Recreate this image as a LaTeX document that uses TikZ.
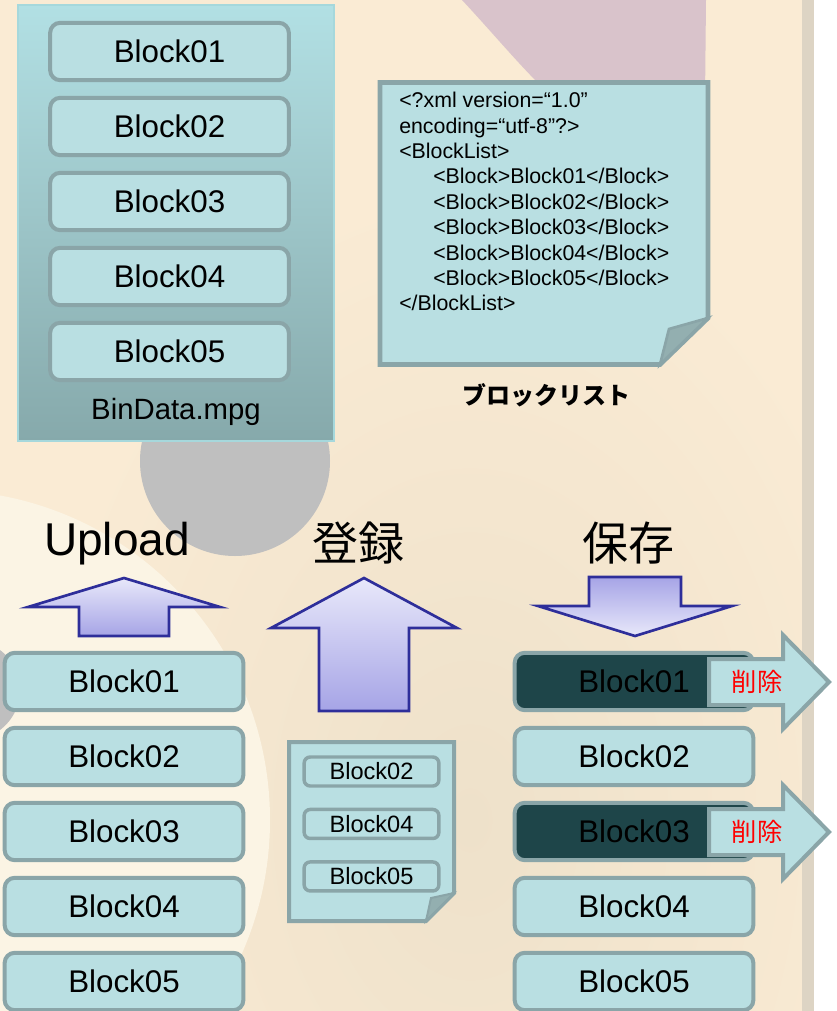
\documentclass[tikz,border=0pt]{standalone}
\usepackage{fontspec}
\setmainfont{Liberation Sans}
\newfontfamily\jpfont{Noto Sans CJK JP}
\usepackage{tikz}
\usetikzlibrary{positioning}
\definecolor{bgcream}{RGB}{250,235,212}
\definecolor{bgdark}{RGB}{238,225,202}
\definecolor{bglight}{RGB}{251,244,228}
\definecolor{bggray}{RGB}{191,191,191}
\definecolor{bgmauve}{RGB}{217,195,203}
\definecolor{stripe}{RGB}{221,212,196}
\definecolor{blockfill}{RGB}{185,223,226}
\definecolor{blockline}{RGB}{138,165,168}
\definecolor{darkblock}{RGB}{30,69,73}
\definecolor{arrowline}{RGB}{46,46,154}
\definecolor{arrowlight}{RGB}{232,232,250}
\definecolor{arrowdark}{RGB}{166,164,230}
\definecolor{bintop}{RGB}{178,224,228}
\definecolor{binbottom}{RGB}{134,169,171}
\definecolor{binedge}{RGB}{166,216,220}
\definecolor{foldfill}{RGB}{147,175,176}
\definecolor{delred}{RGB}{255,0,0}

\begin{document}
\begin{tikzpicture}[
			x=0.75pt, y=-0.75pt,
			node distance=13.25pt,
			blk/.style={draw=blockline, line width=3pt, rounded corners=7.5pt, fill=blockfill, minimum width=179pt, minimum height=43pt, outer sep=0pt, inner sep=0pt, font=\fontsize{23.5}{28}\selectfont},
			darkblk/.style={blk, fill=darkblock},
			smallblk/.style={blk, line width=2.6pt, rounded corners=4.5pt, minimum width=101pt, minimum height=21.75pt, font=\fontsize{17.7}{20}\selectfont},
			doc/.style={draw=blockline, line width=3.5pt, fill=blockfill},
			fold/.style={draw=blockline, line width=2pt, fill=foldfill},
			fat/.style={draw=arrowline, line width=2pt},
			upfat/.style={fat, top color=arrowlight, bottom color=arrowdark},
			downfat/.style={fat, top color=arrowdark, bottom color=arrowlight},
			delarrow/.style={draw=blockline, line width=3pt, fill=blockfill},
			title/.style={anchor=base, font=\fontsize{34.5}{40}\selectfont},
			jptitle/.style={anchor=base, font=\jpfont\fontsize{34.5}{40}\selectfont},
			deltext/.style={anchor=base, text=delred, font=\jpfont\fontsize{19}{22}\selectfont}
		]

		% background
		\useasboundingbox (0,0) rectangle (836,1011);
		\fill[bgcream] (0,0) rectangle (802,1011);
		\begin{scope}
			\clip (0,0) rectangle (802,1011);
			\shade[inner color=bgdark, outer color=bgcream] (470,820) ellipse [x radius=330pt, y radius=480pt];
			\fill[bglight] (-60,820) circle [radius=247.5pt];
			\fill[bggray] (235,461) circle [radius=71.25pt];
			\fill[bggray] (-30,690) circle [radius=37.5pt];
			\fill[bgmauve] (462,0) .. controls (490,30) and (515,60) .. (540,85) -- (560,200) -- (704,200) -- (706,0) -- cycle;
		\end{scope}
		\fill[stripe] (802,0) rectangle (814,1011);
		\fill[white] (814,0) rectangle (836,1011);

		% source file
		\draw[binedge, line width=1.2pt, top color=bintop, bottom color=binbottom] (18,5) rectangle (334,441);
		\node[blk] (src1) at (169.5,51.5) {Block01};
		\node[blk, below=of src1] (src2) {Block02};
		\node[blk, below=of src2] (src3) {Block03};
		\node[blk, below=of src3] (src4) {Block04};
		\node[blk, below=of src4] (src5) {Block05};
		\node[anchor=base, font=\fontsize{22}{26}\selectfont] (bindata) at (176,419) {BinData.mpg};

		% block list
		\draw[doc] (380,82.5) -- (708,82.5) -- (708,318) -- (660,364.5) -- (380,364.5) -- cycle;
		\draw[fold] (660,364.5) -- (669,329) -- (708,318) -- cycle;
		\node[anchor=north west, align=left, inner sep=0pt, font=\fontsize{16}{19.05}\selectfont] (xmllist) at (399,92) {<?xml version=“1.0”\\
			encoding=“utf-8”?>\\
			<BlockList>\\
			\hspace*{25.5pt}<Block>Block01</Block>\\
			\hspace*{25.5pt}<Block>Block02</Block>\\
			\hspace*{25.5pt}<Block>Block03</Block>\\
			\hspace*{25.5pt}<Block>Block04</Block>\\
			\hspace*{25.5pt}<Block>Block05</Block>\\
			</BlockList>};
		\node[font=\jpfont\bfseries\fontsize{18}{22}\selectfont] (listlabel) at (546,395) {ブロックリスト};

		% headings and arrows
		\node[title] (uploadlbl) at (117,555) {Upload};
		\node[jptitle] (reglbl) at (358,560) {登録};
		\node[jptitle] (savelbl) at (628,560) {保存};

		\draw[upfat] (124,578) -- (220,607) -- (169,607) -- (169,636) -- (79,636) -- (79,607) -- (28,607) -- cycle;
		\draw[upfat] (364,578) -- (457,628) -- (409,628) -- (409,711) -- (319,711) -- (319,628) -- (271,628) -- cycle;
		\draw[downfat] (589,577) -- (681,577) -- (681,606) -- (732,606) -- (635,636) -- (538,606) -- (589,606) -- cycle;

		% uploaded blocks
		\node[blk] (upl1) at (124,681.5) {Block01};
		\node[blk, below=of upl1] (upl2) {Block02};
		\node[blk, below=of upl2] (upl3) {Block03};
		\node[blk, below=of upl3] (upl4) {Block04};
		\node[blk, below=of upl4] (upl5) {Block05};

		% registered list
		\draw[doc, line width=3pt] (289,742) -- (454,742) -- (454,893) -- (426,921) -- (289,921) -- cycle;
		\draw[fold, line width=1.5pt] (426,921) -- (431,898) -- (454,893) -- cycle;
		\node[smallblk] (reg2) at (371.5,771.5) {Block02};
		\node[smallblk, below=17.6pt of reg2] (reg4) {Block04};
		\node[smallblk, below=17.6pt of reg4] (reg5) {Block05};

		% stored blocks
		\node[darkblk] (sav1) at (634,681.5) {Block01};
		\node[blk, below=of sav1] (sav2) {Block02};
		\node[darkblk, below=of sav2] (sav3) {Block03};
		\node[blk, below=of sav3] (sav4) {Block04};
		\node[blk, below=of sav4] (sav5) {Block05};

		\draw[delarrow] (709,659) -- (783,659) -- (783,635) -- (829,682) -- (783,729) -- (783,705) -- (709,705) -- cycle;
		\node[deltext] (del1) at (757,691.5) {削除};
		\draw[delarrow] (709,809) -- (783,809) -- (783,785) -- (829,832) -- (783,879) -- (783,855) -- (709,855) -- cycle;
		\node[deltext] (del2) at (757,841.5) {削除};

	\end{tikzpicture}
\end{document}
